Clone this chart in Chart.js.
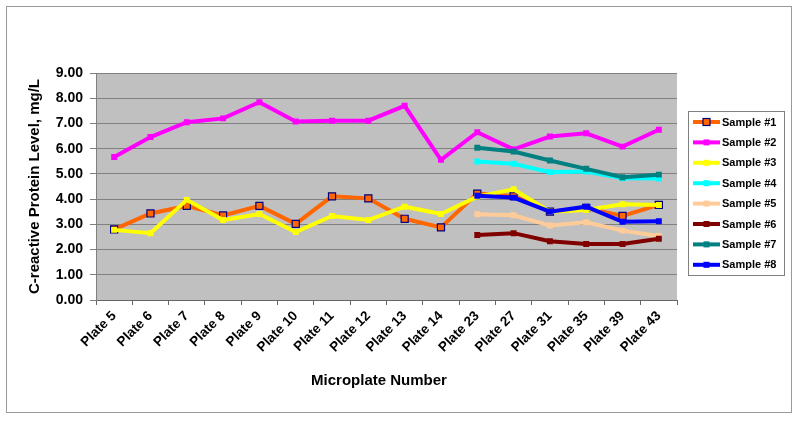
<!DOCTYPE html>
<html>
<head>
<meta charset="utf-8">
<script src="https://cdn.jsdelivr.net/npm/chart.js@4/dist/chart.umd.min.js"></script>
<style>
html,body{margin:0;padding:0;background:#fff;}
canvas{display:block;}
</style>
</head>
<body>
<canvas id="c" width="800" height="421"></canvas>
<script>
const categories = ["Plate 5","Plate 6","Plate 7","Plate 8","Plate 9","Plate 10","Plate 11","Plate 12","Plate 13","Plate 14","Plate 23","Plate 27","Plate 31","Plate 35","Plate 39","Plate 43"];
const sample1 = [2.80,3.43,3.73,3.35,3.73,3.02,4.11,4.03,3.22,2.88,4.22,4.12,3.50,3.65,3.33,3.77];
const sample2 = [5.67,6.46,7.05,7.20,7.84,7.08,7.11,7.11,7.70,5.56,6.65,5.97,6.48,6.61,6.08,6.75];
const sample3 = [2.78,2.65,3.97,3.17,3.41,2.69,3.33,3.17,3.70,3.41,4.10,4.39,3.50,3.57,3.80,3.77];
const sample4 = [null,null,null,null,null,null,null,null,null,null,5.49,5.40,5.07,5.09,4.83,4.82];
const sample5 = [null,null,null,null,null,null,null,null,null,null,3.40,3.36,2.95,3.08,2.75,2.54];
const sample6 = [null,null,null,null,null,null,null,null,null,null,2.58,2.65,2.33,2.22,2.22,2.43];
const sample7 = [null,null,null,null,null,null,null,null,null,null,6.04,5.89,5.53,5.20,4.87,4.97];
const sample8 = [null,null,null,null,null,null,null,null,null,null,4.13,4.06,3.50,3.70,3.10,3.12];
const seriesNames = ["Sample #1","Sample #2","Sample #3","Sample #4","Sample #5","Sample #6","Sample #7","Sample #8"];
const seriesData = [sample1,sample2,sample3,sample4,sample5,sample6,sample7,sample8];
const seriesColors = ["#FF6600","#FF00FF","#FFFF00","#00FFFF","#FFCC99","#800000","#008080","#0000FF"];
const yTicks = [0,1,2,3,4,5,6,7,8,9];
const xTitle = "Microplate Number";
const yTitle = "C-reactive Protein Level, mg/L";

const FONT = 'Arial, "Liberation Sans", Helvetica, sans-serif';

const datasets = seriesNames.map((name, i) => ({
  label: name,
  data: seriesData[i],
  order: seriesNames.length - i,
  borderColor: seriesColors[i],
  backgroundColor: seriesColors[i],
  borderWidth: 4,
  pointStyle: 'rect',
  pointRadius: i === 0 ? 5 : 4.2,
  pointBackgroundColor: seriesColors[i],
  pointBorderColor: i === 0 ? '#000080' : seriesColors[i],
  pointBorderWidth: i === 0 ? 1.2 : 0,
  tension: 0,
  spanGaps: false
}));

const decor = {
  id: 'decor',
  beforeDraw(chart) {
    const {ctx, chartArea: a} = chart;
    ctx.save();
    ctx.fillStyle = '#C0C0C0';
    ctx.fillRect(a.left, a.top, a.right - a.left, a.bottom - a.top);
    ctx.restore();
  },
  afterDraw(chart) {
    const ctx = chart.ctx;
    ctx.save();
    // outer frame
    ctx.strokeStyle = '#9a9a9a';
    ctx.lineWidth = 1;
    ctx.strokeRect(6.5, 6.5, 785, 406);
    // x axis title (Excel centres it on the chart, slightly left of plot centre)
    ctx.fillStyle = '#000';
    ctx.font = 'bold 15px ' + FONT;
    ctx.textAlign = 'center';
    ctx.textBaseline = 'middle';
    ctx.fillText(xTitle, 379, 381);
    // legend
    const bx = 688.5, by = 111.5, bw = 96, bh = 164;
    ctx.strokeStyle = '#808080';
    ctx.lineWidth = 1;
    ctx.strokeRect(bx, by, bw, bh);
    ctx.font = 'bold 11px ' + FONT;
    ctx.textBaseline = 'middle';
    ctx.textAlign = 'left';
    chart.data.datasets.forEach((ds, i) => {
      const y = 122 + i * 20.4;
      ctx.strokeStyle = ds.borderColor;
      ctx.lineWidth = 4;
      ctx.beginPath();
      ctx.moveTo(693, y);
      ctx.lineTo(720, y);
      ctx.stroke();
      const s = i === 0 ? 7 : 6;
      ctx.fillStyle = ds.pointBackgroundColor;
      ctx.fillRect(706.5 - s/2, y - s/2, s, s);
      if (i === 0) {
        ctx.strokeStyle = '#000080';
        ctx.lineWidth = 1.2;
        ctx.strokeRect(706.5 - s/2, y - s/2, s, s);
      }
      ctx.fillStyle = '#000';
      ctx.fillText(ds.label, 722, y + 0.5);
    });
    ctx.restore();
  }
};

new Chart(document.getElementById('c'), {
  type: 'line',
  data: { labels: categories, datasets },
  plugins: [decor],
  options: {
    responsive: false,
    animation: false,
    layout: { padding: { left: 0, right: 123, top: 73, bottom: 0 } },
    plugins: { legend: { display: false }, tooltip: { enabled: false } },
    scales: {
      x: {
        type: 'category',
        offset: true,
        afterFit(scale) { scale.height = 121; },
        grid: { display: true, drawOnChartArea: false, drawTicks: true, tickLength: 5, offset: true, color: '#666666' },
        border: { display: true, color: '#666666', width: 1 },
        ticks: {
          autoSkip: false, maxRotation: 45, minRotation: 45, padding: 3,
          color: '#000', font: { family: FONT, size: 13.5, weight: 'bold' }
        },
        title: { display: false }
      },
      y: {
        min: 0, max: 9,
        afterFit(scale) { scale.width = 96; },
        afterBuildTicks(scale) { scale.ticks = yTicks.map(v => ({ value: v })); },
        grid: { color: '#808080', lineWidth: 1, tickLength: 6, drawTicks: true },
        border: { display: true, color: '#808080', width: 1 },
        ticks: {
          padding: 7, color: '#000',
          font: { family: FONT, size: 14, weight: 'bold' },
          callback: v => Number(v).toFixed(2)
        },
        title: {
          display: true, text: yTitle, color: '#000',
          font: { family: FONT, size: 15, weight: 'bold' },
          padding: { top: 26, bottom: 0 }
        }
      }
    }
  }
});
</script>
</body>
</html>
